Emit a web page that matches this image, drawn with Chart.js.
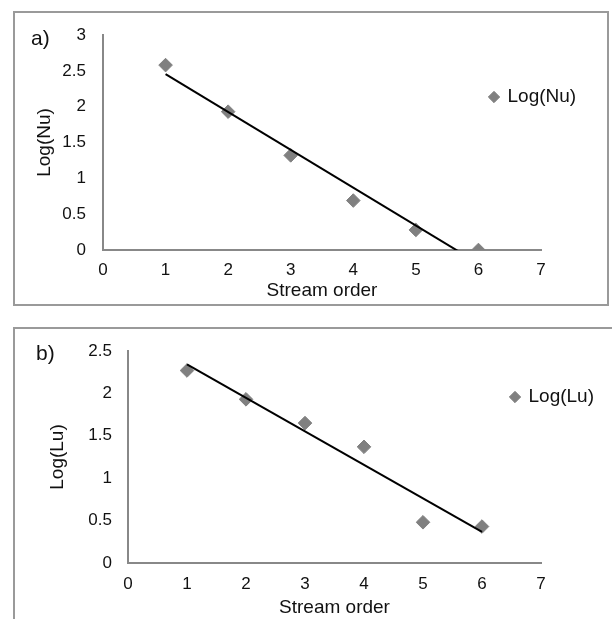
<!DOCTYPE html>
<html>
<head>
<meta charset="utf-8">
<script src="https://cdn.jsdelivr.net/npm/chart.js@4.4.0/dist/chart.umd.min.js"></script>
<style>
  body { margin: 0; background: #fff; width: 612px; height: 619px; overflow: hidden; position: relative;
         font-family: "Liberation Sans", Arial, sans-serif; }
  .frame { position: absolute; box-sizing: border-box; border: 2px solid #9a9a9a; }
  .tag { position: absolute; font-size: 21px; line-height: 21px; color: #111; }
  .plot { position: absolute; left: 0; }
</style>
</head>
<body>
<div class="frame" style="left:13px; top:11px; width:596px; height:295px;"></div>
<div class="frame" style="left:13px; top:327px; width:640px; height:400px;"></div>

<div class="plot" style="top:0;"><canvas id="chartA" width="612" height="310"></canvas></div>
<div class="plot" style="top:310px;"><canvas id="chartB" width="612" height="309"></canvas></div>

<div class="tag" style="left:31px; top:27px;">a)</div>
<div class="tag" style="left:36px; top:342px;">b)</div>

<script>
// stream orders and the two log series
var orders = [1, 2, 3, 4, 5, 6];
var logNu = [2.58, 1.93, 1.32, 0.69, 0.28, 0];
var logLu = [2.27, 1.93, 1.65, 1.37, 0.48, 0.43];
var xAxisTitle = "Stream order";

var fontFamily = '"Liberation Sans", Arial, sans-serif';
var tickFont = { family: fontFamily, size: 17 };
var titleFont = { family: fontFamily, size: 19 };
var legendFont = { family: fontFamily, size: 19 };
var markerGrey = "#808080";
var axisGrey = "#888888";
var legendBox = 8, legendPad = 4;

// least squares fit, like the spreadsheet trendline
function linearFit(xs, ys) {
    var n = xs.length, sx = 0, sy = 0, sxy = 0, sxx = 0;
    for (var i = 0; i < n; i++) {
        sx += xs[i]; sy += ys[i];
        sxy += xs[i] * ys[i]; sxx += xs[i] * xs[i];
    }
    var slope = (n * sxy - sx * sy) / (n * sxx - sx * sx);
    var icpt = (sy - slope * sx) / n;
    var first = xs[0], last = xs[n - 1];
    return [{ x: first, y: icpt + slope * first }, { x: last, y: icpt + slope * last }];
}

// put the legend where the figure has it
var legendAt = {
    id: "legendAt",
    afterLayout: function (chart, args, opts) {
        var lg = chart.legend;
        if (!lg) return;
        var w = lg.width, h = lg.height;
        lg.left = opts.x - legendBox / 2 - legendPad;
        lg.top = opts.y - legendFont.size / 2 - legendPad;
        lg.right = lg.left + w;
        lg.bottom = lg.top + h;
    }
};

function drawPanel(id, values, label, yMax, g) {
    var points = orders.map(function (o, i) { return { x: o, y: values[i] }; });
    return new Chart(document.getElementById(id), {
        type: "scatter",
        data: {
            datasets: [
                {
                    label: label,
                    data: points,
                    pointStyle: "rectRot",
                    pointRadius: 6.8,
                    pointBorderWidth: 1,
                    backgroundColor: markerGrey,
                    borderColor: markerGrey,
                    order: 1
                },
                {
                    label: "trend",
                    data: linearFit(orders, values),
                    showLine: true,
                    borderColor: "#000",
                    borderWidth: 2,
                    pointRadius: 0,
                    order: 0
                }
            ]
        },
        options: {
            responsive: false,
            animation: false,
            layout: { padding: { left: g.padL, top: g.padT, right: g.padR, bottom: g.padB } },
            scales: {
                x: {
                    type: "linear", min: 0, max: 7,
                    ticks: { stepSize: 1, padding: g.xTickPad, color: "#111", font: tickFont },
                    grid: { display: false, drawTicks: false },
                    border: { color: axisGrey, width: 2 },
                    title: { display: true, text: xAxisTitle, color: "#111", font: titleFont, padding: 0 },
                    afterFit: function (s) { s.height = g.xH; }
                },
                y: {
                    min: 0, max: yMax,
                    ticks: {
                        stepSize: 0.5, padding: g.yTickPad, color: "#111", font: tickFont,
                        callback: function (v) { return String(Math.round(v * 10) / 10); }
                    },
                    grid: { display: false, drawTicks: false },
                    border: { color: axisGrey, width: 2 },
                    title: { display: true, text: label, color: "#111", font: titleFont, padding: 0 },
                    afterFit: function (s) { s.width = g.yW; }
                }
            },
            plugins: {
                legend: {
                    position: "chartArea",
                    align: "start",
                    labels: {
                        usePointStyle: true, boxWidth: legendBox, boxHeight: 8, padding: legendPad,
                        color: "#111", font: legendFont,
                        filter: function (item) { return item.datasetIndex === 0; }
                    }
                },
                tooltip: { enabled: false },
                legendAt: { x: g.legX, y: g.legY }
            }
        },
        plugins: [legendAt]
    });
}

drawPanel("chartA", logNu, "Log(Nu)", 3, {
    padL: 33, padT: 35, padR: 71, padB: 8, yW: 70, xH: 52,
    yTickPad: 17, xTickPad: 10, legX: 494, legY: 97
});

drawPanel("chartB", logLu, "Log(Lu)", 2.5, {
    padL: 46, padT: 41, padR: 71, padB: 0, yW: 82, xH: 56,
    yTickPad: 16, xTickPad: 11, legX: 515, legY: 87
});
</script>
</body>
</html>
